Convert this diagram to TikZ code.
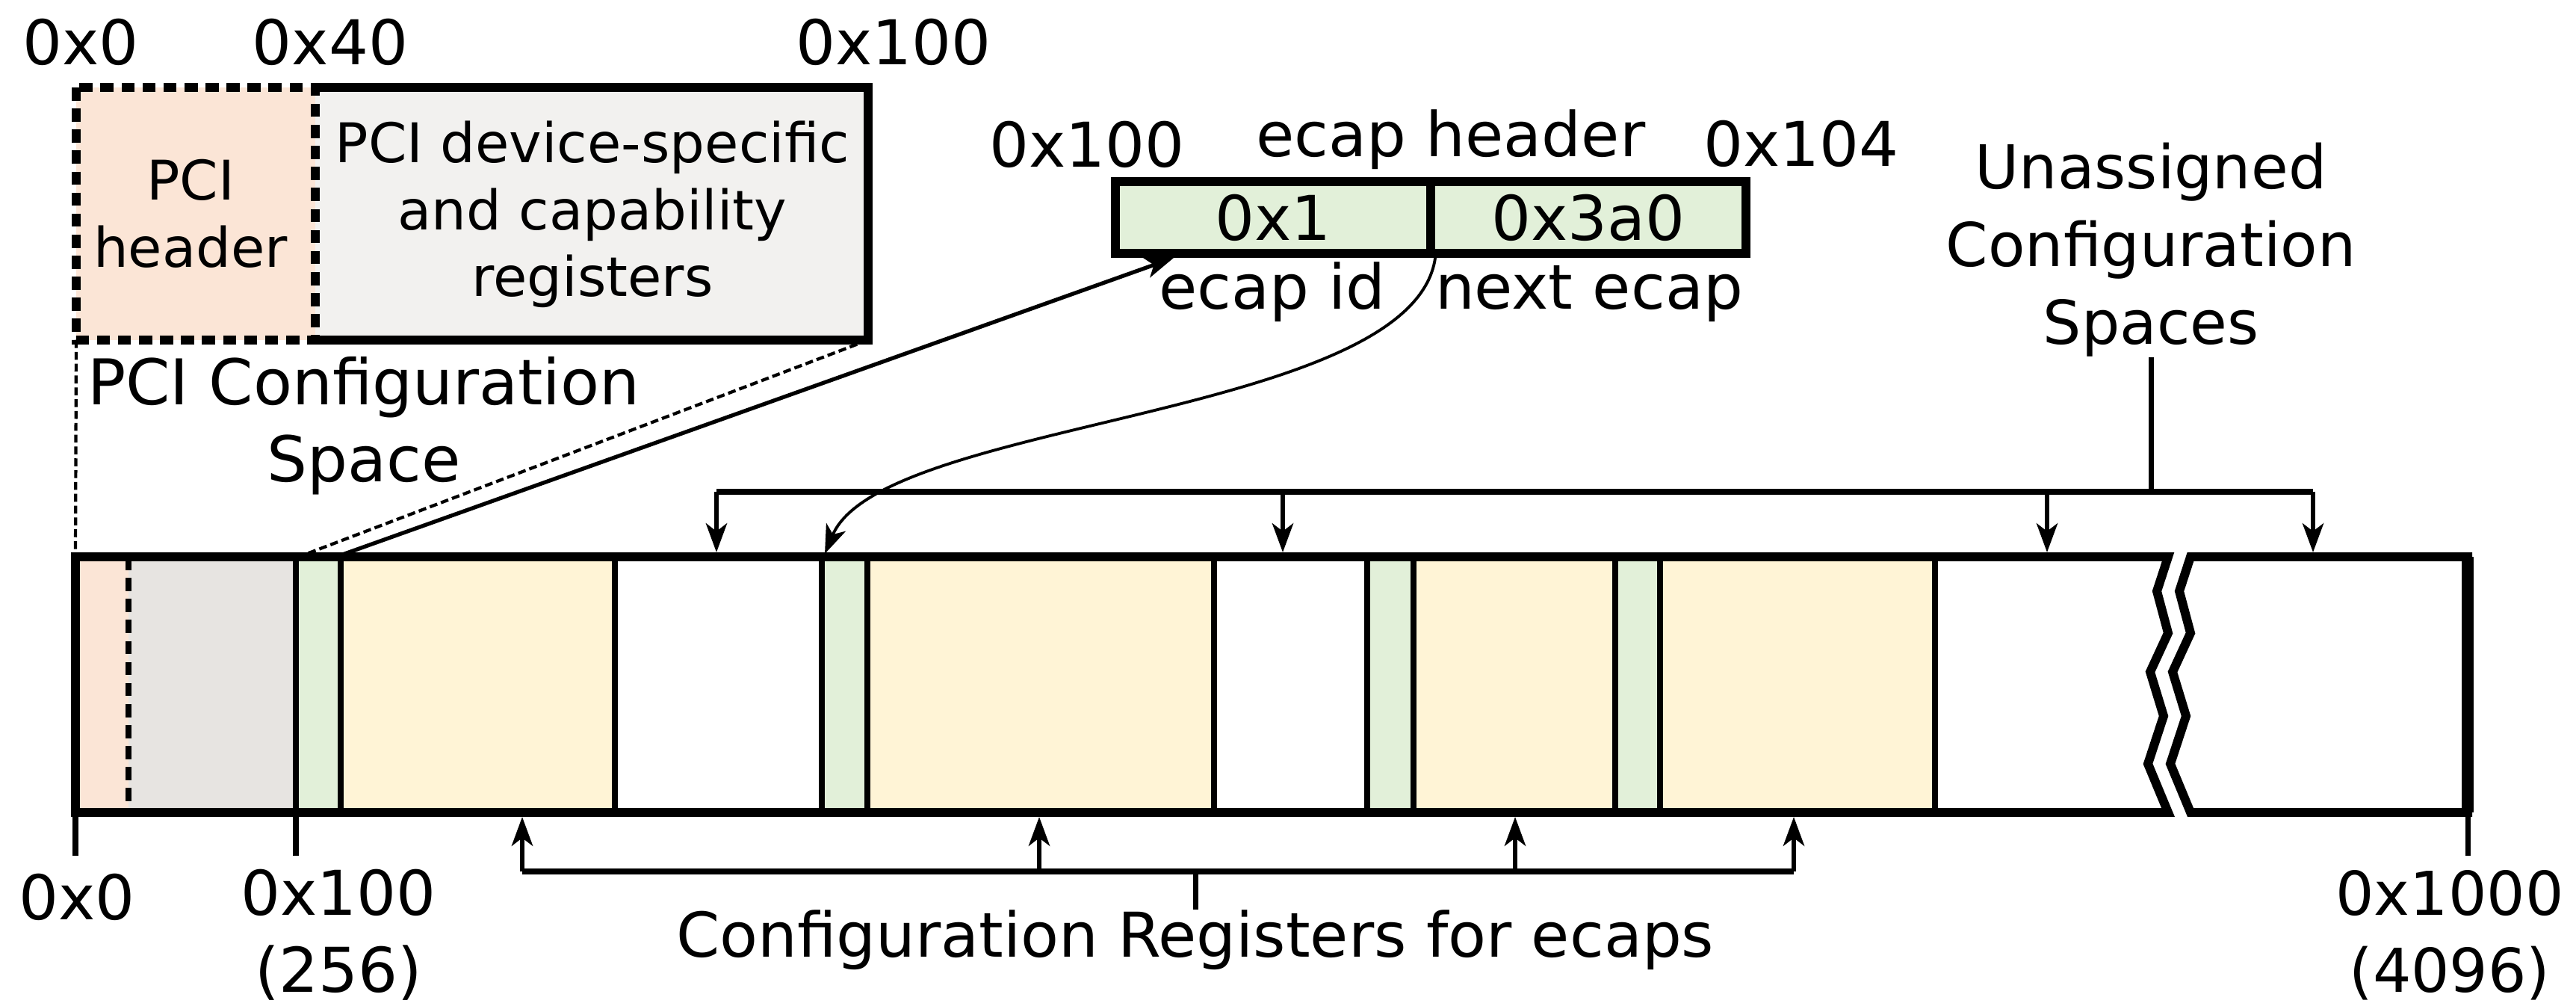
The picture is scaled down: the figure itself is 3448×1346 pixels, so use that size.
\documentclass[tikz,border=0pt]{standalone}
\usepackage{fontspec}
\setmainfont{DejaVu Sans Condensed}[FakeStretch=1.12]
\newfontfamily\wideface{DejaVu Sans}
\usepackage{xcolor}
\usetikzlibrary{arrows.meta}
\definecolor{hdrpeach}{HTML}{FBE5D6}
\definecolor{devgray}{HTML}{F2F1EF}
\definecolor{bargray}{HTML}{E7E4E1}
\definecolor{ecapgreen}{HTML}{E2F0D9}
\definecolor{regyellow}{HTML}{FFF4D6}

\begin{document}
\begin{tikzpicture}[x=0.01cm, y=-0.01cm,
    lbl/.style={font=\fontsize{23.5}{29.3}\selectfont, inner sep=0pt},
    boxtxt/.style={font=\fontsize{20.8}{25.5}\selectfont, align=center, inner sep=0pt},
    thickline/.style={line width=3.4pt},
    divline/.style={line width=2.3pt},
    brk/.style={line width=2pt},
    ptr/.style={line width=1.7pt, -{Stealth[length=11pt,width=8pt,inset=3pt]}},
    zoomline/.style={line width=1.2pt, dash pattern=on 3pt off 1.5pt},
    cell/.style={draw, thickline, fill=ecapgreen, minimum width=4.22cm,
                 minimum height=0.96cm, inner sep=0pt, font=\fontsize{23.5}{29.3}\selectfont}]
  \useasboundingbox (0,0) rectangle (3448,1346);

  %% --- PCI configuration space (zoomed) ---
  \fill[hdrpeach] (102,117) rectangle (422,455);
  \fill[devgray] (422,117) rectangle (1162,455);
  \draw[thickline, dash pattern=on 5pt off 3pt] (102,117) rectangle (422,455);
  \draw[thickline] (422,117) -- (1162,117) -- (1162,455) -- (422,455);
  \coordinate (boxbl) at (102,455);
  \coordinate (boxbr) at (1162,455);
  \node[boxtxt] (hdrtxt) at (255,286) {PCI\\header};
  \node[boxtxt] (devtxt) at (793,287) {PCI device-specific\\and capability\\registers};
  \node[lbl, anchor=base] (top0) at (108,87) {0x0};
  \node[lbl, anchor=base] (top40) at (442,87) {0x40};
  \node[lbl, anchor=base] (top100) at (1196,87) {0x100};
  \node[lbl, align=center, font=\fontsize{24}{29.3}\selectfont] (pcicfg) at (487,570)
    {PCI Configuration\\Space};

  %% --- ecap header ---
  \node[cell] (ecapid) at (1704,291) {0x1};
  \node[cell] (ecapnext) at (2126,291) {0x3a0};
  \node[lbl, anchor=base] (e100) at (1455,224) {0x100};
  \node[lbl, anchor=base] (ehdr) at (1942,210) {ecap header};
  \node[lbl, anchor=base] (e104) at (2411,223) {0x104};
  \node[lbl, anchor=base] (eid) at (1703,414) {ecap id};
  \node[lbl, anchor=base] (enext) at (2127,414) {next ecap};

  %% --- extended configuration space bar ---
  \foreach \a/\b/\c in {101/172/hdrpeach, 172/396/bargray, 396/456/ecapgreen,
      456/823/regyellow, 1100/1161/ecapgreen, 1161/1625/regyellow,
      1830/1892/ecapgreen, 1892/2162/regyellow, 2162/2222/ecapgreen,
      2222/2590/regyellow} {
    \fill[\c] (\a,745) rectangle (\b,1087);
  }
  \foreach \x in {396,456,823,1100,1161,1625,1830,1892,2162,2222,2590} {
    \draw[divline] (\x,745) -- (\x,1087);
  }
  \draw[divline, dash pattern=on 5pt off 3pt] (172,745) -- (172,1087);
  \draw[thickline] (101,745) -- (2902,745) -- (2887,791) -- (2902,847) -- (2878,899)
    -- (2896,958) -- (2875,1022) -- (2902,1087) -- (101,1087) -- cycle;
  \draw[thickline] (2932,745) -- (3303,745) -- (3303,1087) -- (2932,1087) -- (2905,1022)
    -- (2926,958) -- (2908,899) -- (2932,847) -- (2917,791) -- cycle;
  \draw[line width=4.3pt] (3303,745) -- (3303,1087);

  %% zoom lines and ecap pointers
  \coordinate (bartl) at (101,745);
  \coordinate (bar100) at (400,745);
  \coordinate (hdrA) at (450,745);
  \coordinate (hdrB) at (1104,741);
  \coordinate (idin) at (1571,345);
  \draw[zoomline] (boxbl) -- (bartl);
  \draw[zoomline] (boxbr) -- (bar100);
  \draw[ptr, line width=1.5pt] (hdrA) -- (idin);
  \draw[ptr, line width=1.1pt] (ecapid.south east) .. controls (1890,560) and (1180,560) .. (hdrB);

  %% unassigned spaces bracket
  \node[lbl, align=center, font=\wideface\fontsize{23}{29.6}\selectfont] (unasg) at (2879,334)
    {Unassigned\\Configuration\\Spaces};
  \coordinate (uajoin) at (2879,658);
  \draw[brk] (unasg.south) -- (uajoin);
  \draw[brk] (959,658) -- (3096,658);
  \foreach \x [count=\i] in {959,1717,2740,3096} {
    \coordinate (ua\i) at (\x,658);
    \coordinate (ub\i) at (\x,739);
    \draw[ptr] (ua\i) -- (ub\i);
  }

  %% ecap registers bracket
  \node[lbl, anchor=base] (cfgreg) at (1600,1280) {Configuration Registers for ecaps};
  \coordinate (crjoin) at (1600,1166);
  \draw[brk] (cfgreg.north) -- (crjoin);
  \draw[brk] (699,1166) -- (2401,1166);
  \foreach \x [count=\i] in {699,1391,2028,2401} {
    \coordinate (ca\i) at (\x,1166);
    \coordinate (cb\i) at (\x,1093);
    \draw[ptr] (ca\i) -- (cb\i);
  }

  %% offsets below the bar
  \foreach \x [count=\i] in {101,396,3303} {
    \coordinate (ta\i) at (\x,1087);
    \coordinate (tb\i) at (\x,1145);
    \draw[brk] (ta\i) -- (tb\i);
  }
  \node[lbl, anchor=base] (bot0) at (103,1230) {0x0};
  \node[lbl, align=center] (bot100) at (453,1251) {0x100\\(256)};
  \node[lbl, align=center, font=\wideface\fontsize{23}{29.3}\selectfont] (bot1000) at (3279,1251)
    {0x1000\\(4096)};
\end{tikzpicture}
\end{document}
